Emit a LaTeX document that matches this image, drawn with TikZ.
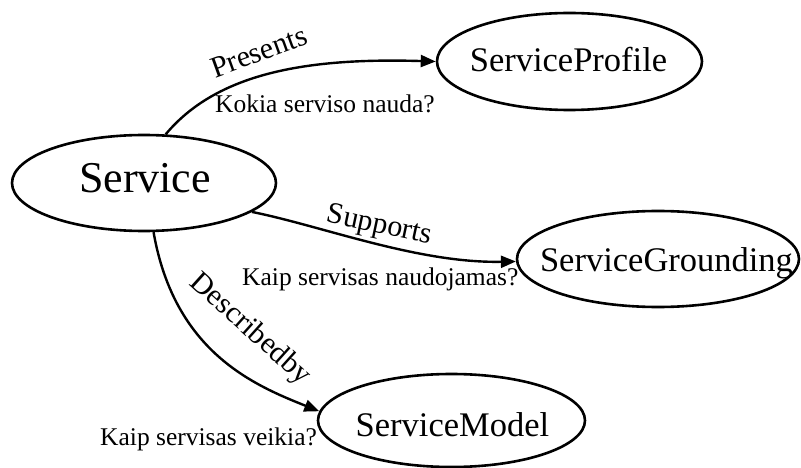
\documentclass[tikz,border=0pt]{standalone}
\usepackage{fontspec}
\setmainfont{Liberation Serif}
\usetikzlibrary{shapes.geometric,arrows.meta}
\begin{document}
\begin{tikzpicture}[x=1pt,y=-1pt,
  concept/.style={draw, ellipse, line width=2.6pt, inner sep=0pt},
  conceptname/.style={anchor=base, inner sep=0pt, font=\fontsize{34.5}{40}\selectfont},
  relation/.style={draw, line width=2.4pt, -{Triangle[length=15pt,width=12pt]}},
  edgename/.style={anchor=base, inner sep=0pt, font=\fontsize{30}{34}\selectfont},
  question/.style={anchor=base west, inner sep=0pt, font=\fontsize{25.5}{30}\selectfont}]
\useasboundingbox (0,0) rectangle (801,468);

% concept ellipses
\node[concept, minimum width=264pt, minimum height=96pt] (svc) at (144,183) {};
\node[concept, minimum width=265pt, minimum height=97pt] (sp) at (569.5,61.5) {};
\node[concept, minimum width=282pt, minimum height=96pt] (sg) at (658,259) {};
\node[concept, minimum width=267pt, minimum height=93pt] (sm) at (451.5,420.5) {};

% concept names
\node[conceptname, font=\fontsize{44}{50}\selectfont] (svc-t) at (145,193) {Service};
\node[conceptname] (sp-t) at (568.5,72) {ServiceProfile};
\node[conceptname] (sg-t) at (666.5,271) {ServiceGrounding};
\node[conceptname] (sm-t) at (452.5,436) {ServiceModel};

% relations
\draw[relation] (svc.66) .. controls +(51,-61) and +(-130,-4) .. (sp.west);
\draw[relation] (svc.-15) .. controls +(70,14) and +(-98,2) .. (sg.181);
\draw[relation] (svc.-79) .. controls +(21,120) and +(-65,-26) .. (sm.176);

% relation names
\node[edgename, rotate=20] (presents) at (262,61) {Presents};
\node[edgename, rotate=-12] (supports) at (378,233) {Supports};
\node[edgename, rotate=-42] (describedby) at (245,335) {Describedby};

% questions
\node[question] (q1) at (215,113) {Kokia serviso nauda?};
\node[question] (q2) at (242,285) {Kaip servisas naudojamas?};
\node[question] (q3) at (100,445) {Kaip servisas veikia?};
\end{tikzpicture}
\end{document}
